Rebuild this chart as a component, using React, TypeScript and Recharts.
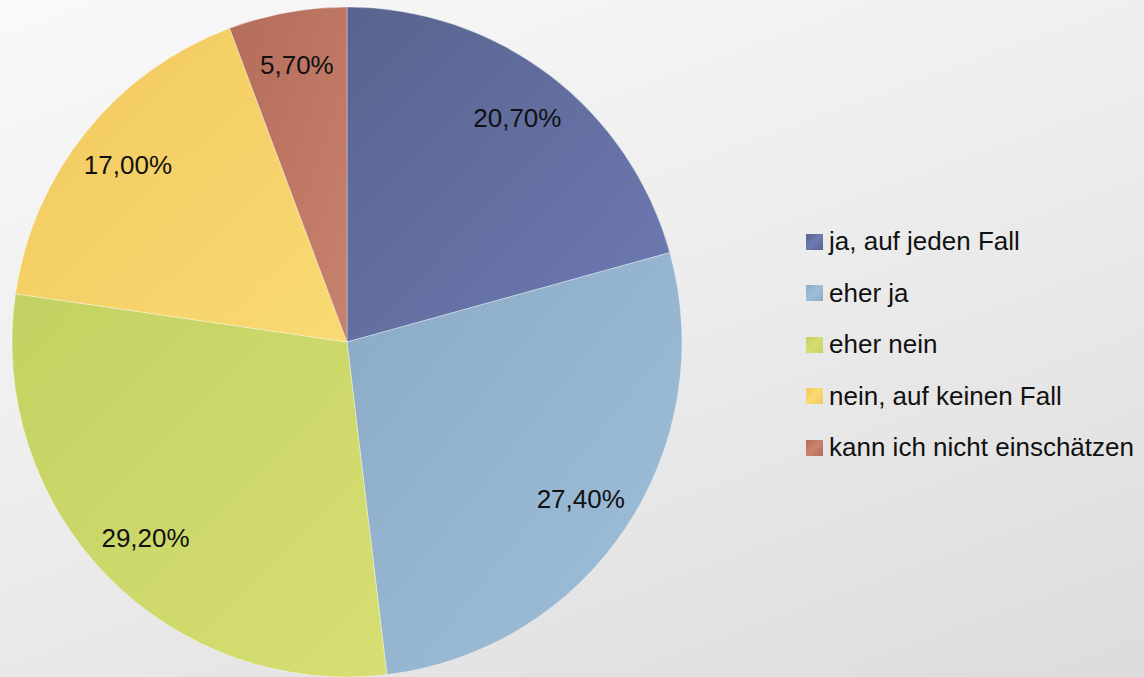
import { PieChart, Pie, Cell, Legend } from "recharts"

const categories = [
  "ja, auf jeden Fall",
  "eher ja",
  "eher nein",
  "nein, auf keinen Fall",
  "kann ich nicht einschätzen",
]
const shares = [20.7, 27.4, 29.2, 17.0, 5.7]
// light / dark end of each slice's shading
const lightColors = ["#6e7bb3", "#9fbfd9", "#d7de72", "#f9da72", "#c9826d"]
const darkColors = ["#58638e", "#8aaac6", "#c3d262", "#f1c95f", "#b46c5b"]

const data = categories.map((name, i) => ({ name, value: shares[i] }))

const RADIAN = Math.PI / 180

const renderLabel = (props: any) => {
  const { cx, cy, midAngle, outerRadius, value } = props
  const r = outerRadius * 0.84
  const x = cx + r * Math.cos(-midAngle * RADIAN)
  const y = cy + r * Math.sin(-midAngle * RADIAN)
  return (
    <text
      x={x}
      y={y}
      textAnchor="middle"
      dominantBaseline="central"
      fill="#111"
      fontSize={26}
      fontFamily="'Liberation Sans', Arial, sans-serif"
    >
      {value.toFixed(2).replace(".", ",")}%
    </text>
  )
}

const renderLegend = () => (
  <div style={{ fontFamily: "'Liberation Sans', Arial, sans-serif", fontSize: 26, color: "#111" }}>
    {categories.map((name, i) => (
      <div key={name} style={{ display: "flex", alignItems: "center", height: 51.5 }}>
        <span
          style={{
            display: "inline-block",
            width: 17,
            height: 16,
            marginRight: 6,
            background: `linear-gradient(135deg, ${darkColors[i]}, ${lightColors[i]} 50%, ${darkColors[i]})`,
          }}
        />
        <span style={{ whiteSpace: "nowrap" }}>{name}</span>
      </div>
    ))}
  </div>
)

export default function App() {
  return (
    <div
      style={{
        width: 1144,
        height: 677,
        background: "linear-gradient(160deg, #f9f9f9 0%, #ececec 50%, #dcdcdc 100%)",
        overflow: "hidden",
      }}
    >
      <style>{`body{margin:0}`}</style>
      <PieChart width={1144} height={677} margin={{ top: 0, right: 0, bottom: 0, left: 0 }}>
        <defs>
          {categories.map((_, i) => (
            <linearGradient key={i} id={`slice${i}`} x1="0" y1="0" x2="1" y2="1">
              <stop offset="0%" stopColor={darkColors[i]} />
              <stop offset="100%" stopColor={lightColors[i]} />
            </linearGradient>
          ))}
        </defs>
        <Pie
          data={data}
          dataKey="value"
          nameKey="name"
          cx={347}
          cy={342}
          outerRadius={335}
          startAngle={90}
          endAngle={-270}
          stroke="rgba(255,255,255,0.35)"
          strokeWidth={1}
          label={renderLabel}
          labelLine={false}
          isAnimationActive={false}
        >
          {data.map((_, i) => (
            <Cell key={i} fill={`url(#slice${i})`} />
          ))}
        </Pie>
        <Legend
          layout="vertical"
          align="right"
          verticalAlign="top"
          content={renderLegend}
          wrapperStyle={{ left: 806, top: 216, width: 338 }}
        />
      </PieChart>
    </div>
  )
}
